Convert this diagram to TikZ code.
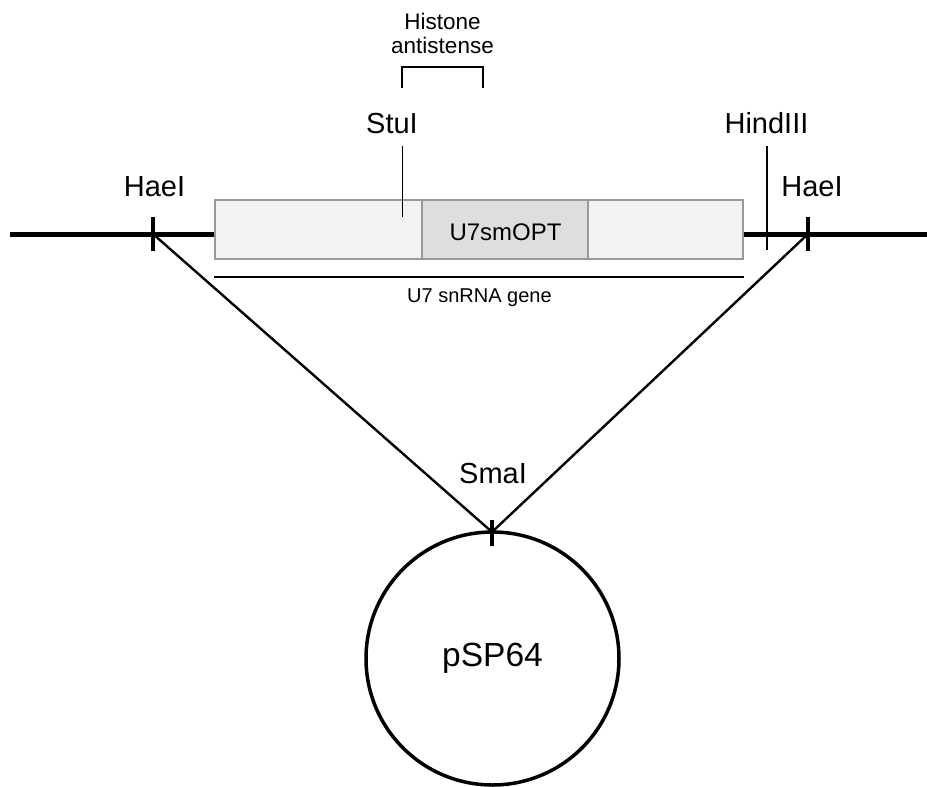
\documentclass[tikz,border=0pt]{standalone}
\usepackage{fontspec}
\setmainfont{Liberation Sans}
\begin{document}
\begin{tikzpicture}[x=1pt,y=-1pt,
  dna/.style={line width=5pt},
  site/.style={line width=3.5pt},
  marker/.style={line width=1.5pt},
  link/.style={line width=2.4pt},
  seg/.style={draw=black!40,line width=1.5pt},
  lbl/.style={font=\fontsize{29}{32}\selectfont,inner sep=0pt,anchor=base},
  small/.style={font=\fontsize{22.5}{25}\selectfont,inner sep=0pt,anchor=base,align=center}]
\useasboundingbox (0,0) rectangle (927,787);

% chromosome backbone with restriction sites
\coordinate (hl) at (153,234);
\coordinate (hr) at (808,234);
\coordinate (sma) at (492,532);
\draw[dna] (10,234) -- (215,234);
\draw[dna] (743,234) -- (927,234);

% U7 snRNA gene segments
\node[seg,fill=black!5,minimum width=528pt,minimum height=59pt,inner sep=0pt] (gene) at (479,229.5) {};
\node[seg,fill=black!13,minimum width=166pt,minimum height=59pt,inner sep=0pt] (opt) at (505,229.5) {};
\node[inner sep=0pt,anchor=base,font=\fontsize{24}{27}\selectfont] (optlbl) at (505.5,240) {U7smOPT};
\draw[line width=1.5pt] (gene.south west) ++(0,17) coordinate (ul) -- (gene.south east |- ul) coordinate (ur);
\node[inner sep=0pt,anchor=base,font=\fontsize{20}{23}\selectfont] (genelbl) at (479.5,302) {U7 snRNA gene};

% HaeI sites
\draw[site] (hl) ++(0,-17) -- ++(0,34);
\draw[site] (hr) ++(0,-17) -- ++(0,34);
\node[lbl] (haeL) at (154.5,196) {HaeI};
\node[lbl] (haeR) at (812,196) {HaeI};

% StuI and HindIII sites
\node[lbl] (stu) at (392,133) {StuI};
\draw[marker] (402.5,146) -- (402.5,217);
\node[lbl] (hind) at (766.5,133) {HindIII};
\draw[marker] (767,146) -- (767,250);

% histone antisense bracket
\draw[marker] (402,88) -- (402,67) -- (483,67) -- (483,88);
\node[small] (hist) at (442.5,29) {Histone};
\node[small] (anti) at (442.5,53) {antistense};

% insertion into the vector
\draw[link] (hl) -- (sma) -- (hr);
\node[circle,draw,line width=3.5pt,minimum size=253pt,inner sep=0pt,font=\fontsize{33.5}{37}\selectfont] (vec) at (492.5,658.5) {pSP64};
\draw[site] (sma) ++(0,-12) -- ++(0,26);
\node[lbl] (sma lbl) at (493,483) {SmaI};
\end{tikzpicture}
\end{document}
